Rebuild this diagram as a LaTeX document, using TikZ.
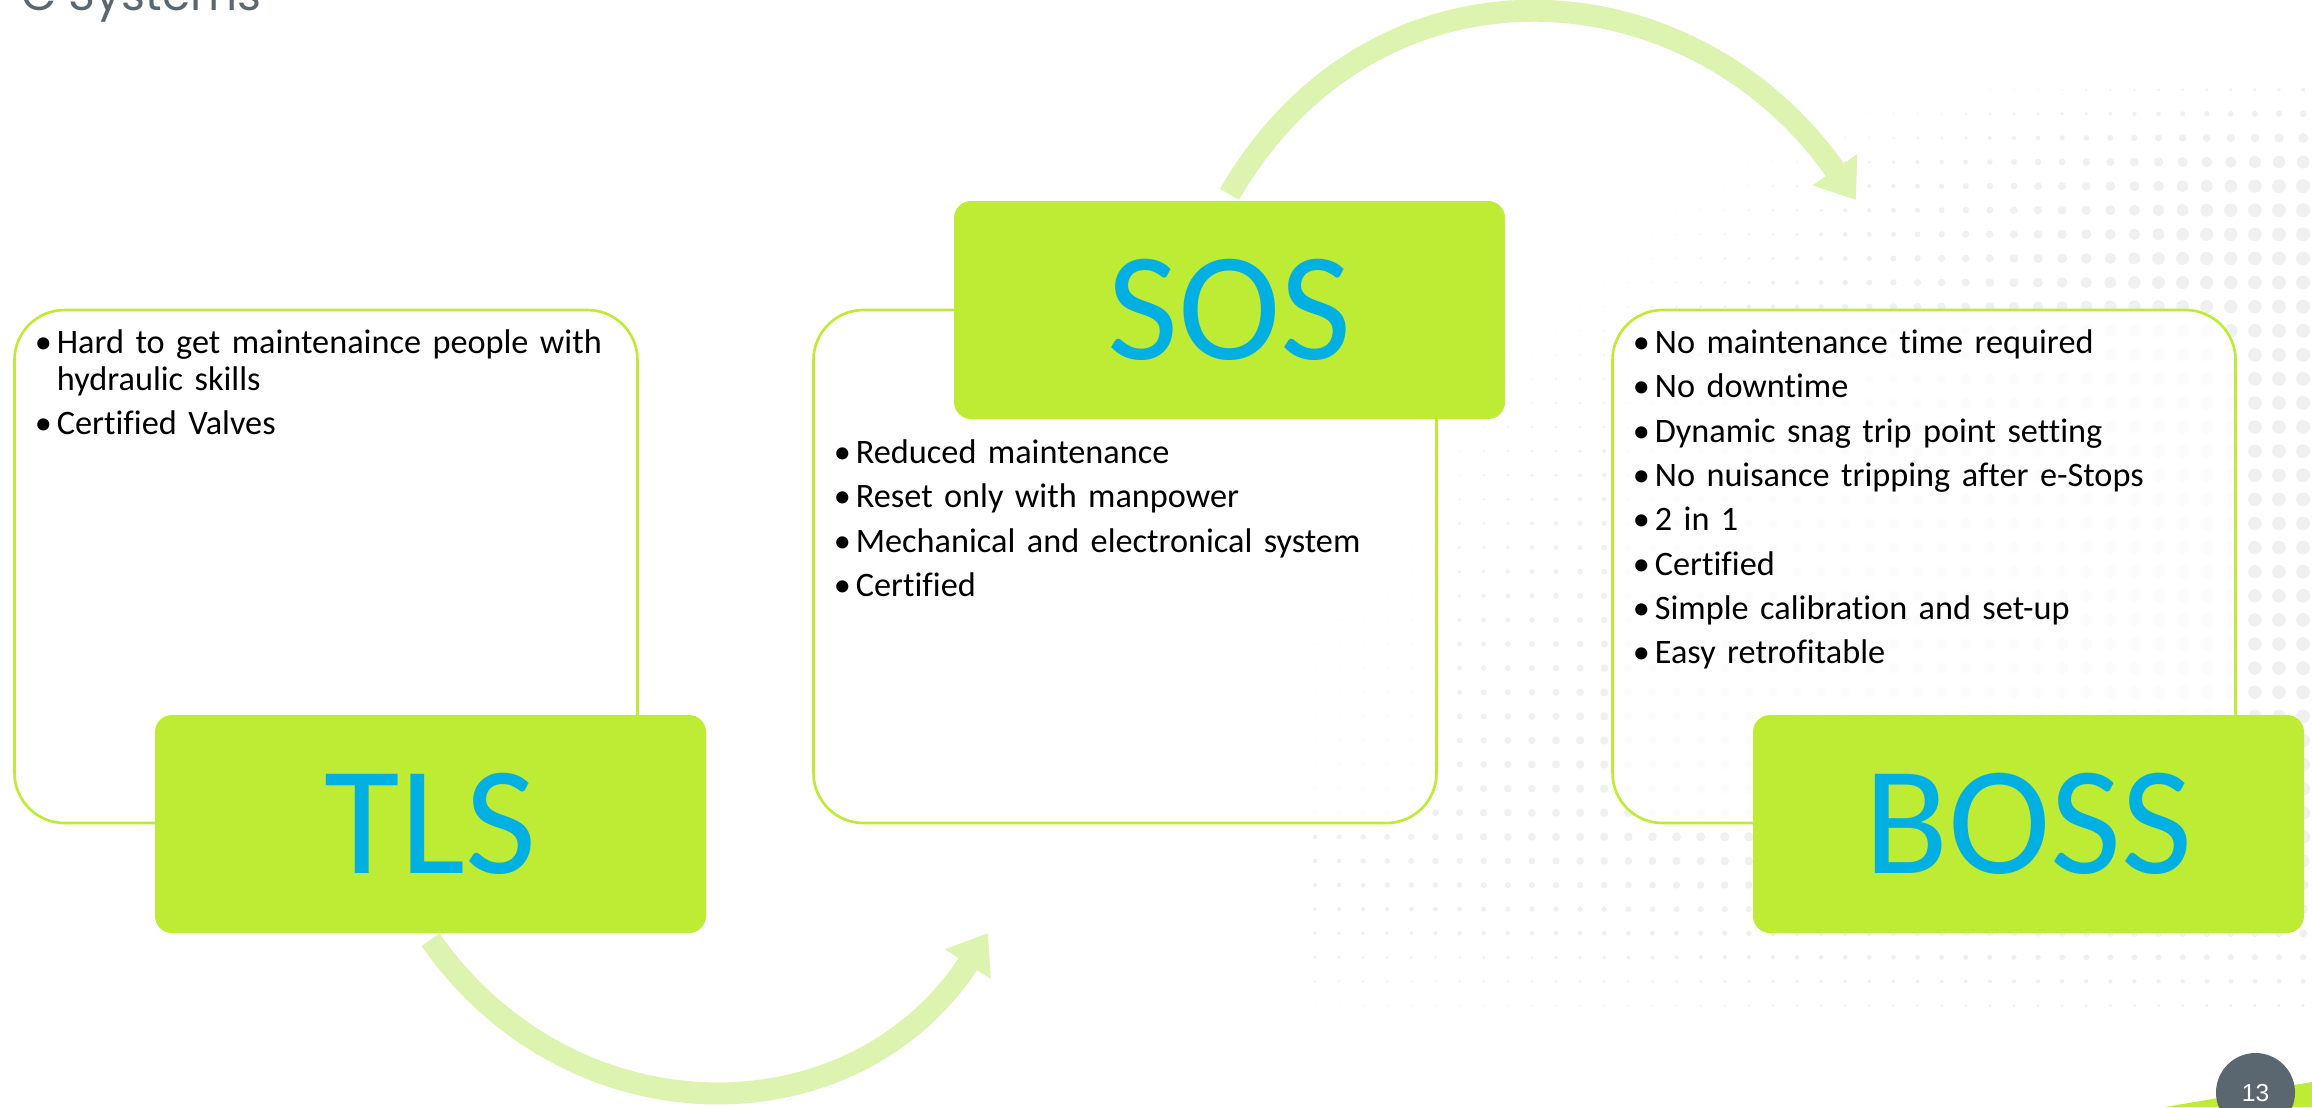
\documentclass[tikz,border=0pt]{standalone}
\usepackage{fontspec}
\setmainfont{Carlito}[Ligatures=NoCommon]
\newfontfamily\titlefont{Poppins}
\newfontfamily\pagefont{Liberation Sans}
\usetikzlibrary{arrows.meta}
\definecolor{lime}{RGB}{190,235,52}
\definecolor{palelime}{RGB}{221,243,176}
\definecolor{sky}{RGB}{0,176,226}
\definecolor{slate}{RGB}{91,103,112}
\newcommand{\bul}[1]{\noindent\hangindent=0.22cm\hangafter=1\makebox[0.22cm][l]{\textbullet}#1\par}

\begin{document}
\begin{tikzpicture}[card/.style={draw=lime,line width=0.75pt,fill=white,fill opacity=0.85,text opacity=1,rounded corners=0.5cm,minimum width=6.23cm,minimum height=5.13cm,inner sep=0},
        tag/.style={fill=lime,rounded corners=0.17cm,minimum width=5.51cm,minimum height=2.18cm,inner sep=0,text=sky,font=\fontsize{44}{44}\selectfont},
        items/.style={anchor=base west,inner sep=0,text width=5.8cm,align=left,font=\fontsize{9.75}{10.5}\selectfont\setlength{\parskip}{2.1pt}},
        flow/.style={draw=palelime,line width=0.22cm,-{Triangle[length=0.37cm,width=0.52cm]}},
        dot/.style={fill=black!6}]
        \useasboundingbox (0,0) rectangle (23.12,-11.07);
        \clip (0,0) rectangle (23.12,-11.07);

        \foreach \k in {0,...,41}{
            \foreach \j in {-3,...,35}{
                \pgfmathsetmacro\px{1315+24.1*\k}
                \pgfmathsetmacro\py{162+24.1*\j}
                \pgfmathsetmacro\dd{14*min(1,max(0,(\py-440+0.8*(\px-1315))/500))*min(1,max(0,(1060-\py)/220))*min(1,max(0,(\py-50)/120))*(0.4+0.6*(\px-1250)/1062)}
                \ifdim\dd pt>0.8pt
                    \fill[dot] (\px/100,-\py/100) circle ({\dd/200});
                \fi
            }
        }

        \foreach [count=\i] \name/\lbl/\ty in {tls/TLS/-8.24,sos/SOS/-3.10,boss/BOSS/-8.24}{
            \node[card] (\name card) at ({3.26+7.99*(\i-1)},-5.665) {};
            \node[tag] (\name) at ({4.305+7.99*(\i-1)},\ty) {\lbl};
        }

        \node[items] (tlsitems) at ([shift={(0.21,-0.45)}]tlscard.north west) {\bul{Hard to get maintenaince people with hydraulic skills}\bul{Certified Valves}};
        \node[items] (sositems) at ([shift={(0.21,-1.55)}]soscard.north west) {\bul{Reduced maintenance}\bul{Reset only with manpower}\bul{Mechanical and electronical system}\bul{Certified}};
        \node[items] (bossitems) at ([shift={(0.21,-0.45)}]bosscard.north west) {\bul{No maintenance time required}\bul{No downtime}\bul{Dynamic snag trip point setting}\bul{No nuisance tripping after e-Stops}\bul{2 in 1}\bul{Certified}\bul{Simple calibration and set-up}\bul{Easy retrofitable}};

        \coordinate (toptip) at (18.56,-2.00);
        \coordinate (lowtip) at (9.88,-9.33);
        \draw[flow] ([yshift=0.06cm]sos.north) to[out=60,in=125,looseness=1.18] (toptip);
        \draw[flow] ([yshift=-0.06cm]tls.south) to[out=-55,in=237,looseness=1.13] (lowtip);

        \node[anchor=base east,inner sep=0,text=slate,font=\titlefont\fontsize{13}{13}\selectfont] (title) at (2.62,-0.10) {C Systems};

        \fill[lime] (21.65,-11.07) -- (23.12,-10.82) -- (23.12,-11.07) -- cycle;
        \node[circle,fill=slate,minimum size=0.79cm,inner sep=0,text=white,font=\pagefont\fontsize{7}{7}\selectfont] (pagenum) at (22.555,-10.925) {13};
    \end{tikzpicture}
\end{document}
